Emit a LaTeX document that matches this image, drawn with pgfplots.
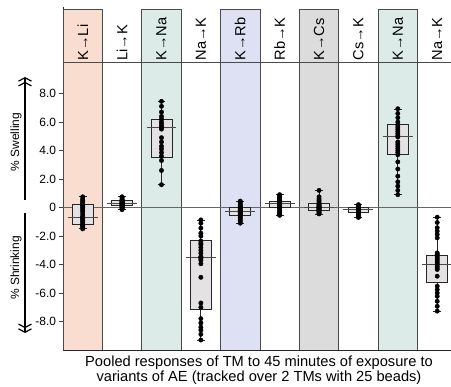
\documentclass[border=0pt]{standalone}
\usepackage{fontspec}
\setmainfont{Liberation Sans}
\usepackage{pgfplots}
\pgfplotsset{compat=1.18}
\usepgfplotslibrary{statistics}
\usetikzlibrary{arrows.meta}
\definecolor{cLi}{HTML}{F9DDD0}
\definecolor{cNa}{HTML}{DCEBE7}
\definecolor{cRb}{HTML}{DEE1F3}
\definecolor{cCs}{HTML}{DCDCDC}
\definecolor{bord}{HTML}{4A4A4A}
\definecolor{boxf}{HTML}{E4E2E2}
\definecolor{zl}{HTML}{666666}
\pgfplotsset{
  bxs/.style={draw=black!85, fill=boxf, line width=0.8bp,
    boxplot/draw direction=y, boxplot/box extend=0.53, boxplot/whisker extend=0.2,
    boxplot/every median/.style={draw=none}},
  pts/.style={only marks, mark=*, mark size=2.2bp, black},
  med/.style={draw=bord, line width=0.8bp, mark=none},
}
\tikzset{hd/.style={rotate=90, anchor=west, inner sep=1.5bp, font=\fontsize{14.7}{16}\selectfont},
  dbl/.style={line width=1.3bp, -{Straight Barb[length=3.5bp,width=13bp,line width=1.2bp] Straight Barb[length=3.5bp,width=13bp,line width=1.2bp]}}}
\begin{document}
\begin{tikzpicture}
\path[use as bounding box] (-63bp,-37bp) rectangle (388bp,350bp);
\begin{axis}[
  scale only axis, width=388bp, height=342.7bp,
  xmin=-0.5, xmax=9.35, ymin=-10, ymax=14.05,
  clip=false,
  axis x line=none, axis y line*=left,
  axis line style={-, draw=black!85, line width=0.8bp},
  ytick={-8,-6,-4,-2,0,2,4,6,8},
  yticklabels={-8.0,-6.0,-4.0,-2.0,0,2.0,4.0,6.0,8.0},
  tick align=outside, major tick length=3.5bp,
  tick style={draw=black!75, line width=0.8bp},
  y tick label style={font=\fontsize{12}{14}\selectfont},
]
% backgrounds
\draw[fill=cLi, draw=bord, line width=0.8bp] (axis cs:-0.5,-10) rectangle (axis cs:0.5,13.9);
\draw[fill=cNa, draw=bord, line width=0.8bp] (axis cs:1.5,-10) rectangle (axis cs:2.5,13.9);
\draw[fill=cRb, draw=bord, line width=0.8bp] (axis cs:3.5,-10) rectangle (axis cs:4.5,13.9);
\draw[fill=cCs, draw=bord, line width=0.8bp] (axis cs:5.5,-10) rectangle (axis cs:6.5,13.9);
\draw[fill=cNa, draw=bord, line width=0.8bp] (axis cs:7.5,-10) rectangle (axis cs:8.5,13.9);
% frame lines
\draw[black!85, line width=0.8bp] (axis cs:-0.5,-10) -- (axis cs:9.35,-10);
\draw[bord, line width=0.8bp] (axis cs:-0.5,10.2) -- (axis cs:9.35,10.2);
\draw[zl, line width=0.8bp] (axis cs:-0.5,0) -- (axis cs:9.35,0);
% header labels
\node[hd] at (axis cs:0,10.2) {K→Li};
\node[hd] at (axis cs:1,10.2) {Li→K};
\node[hd] at (axis cs:2,10.2) {K→Na};
\node[hd] at (axis cs:3,10.2) {Na→K};
\node[hd] at (axis cs:4,10.2) {K→Rb};
\node[hd] at (axis cs:5,10.2) {Rb→K};
\node[hd] at (axis cs:6,10.2) {K→Cs};
\node[hd] at (axis cs:7,10.2) {Cs→K};
\node[hd] at (axis cs:8,10.2) {K→Na};
\node[hd] at (axis cs:9,10.2) {Na→K};
% ---- K->Li
\addplot[bxs, boxplot prepared={draw position=0, lower whisker=-1.5, lower quartile=-1.2, median=-0.68, upper quartile=0.2, upper whisker=0.75}] coordinates {};
\addplot[med] coordinates {(-0.38,-0.68) (0.38,-0.68)};
\addplot[pts] coordinates {(0,0.75) (0,0.6) (0,0.5) (0,0.4) (0,0.3) (0,0.2) (0,0.15) (0,0.1) (0,0.0) (0,-0.1) (0,-0.2) (0,-0.3) (0,-0.6) (0,-0.68) (0,-0.75) (0,-0.8) (0,-0.9) (0,-1.0) (0,-1.1) (0,-1.2) (0,-1.25) (0,-1.3) (0,-1.4) (0,-1.5) (0,-0.45)};
% ---- Li->K
\addplot[bxs, boxplot prepared={draw position=1, lower whisker=-0.15, lower quartile=0.14, median=0.3, upper quartile=0.49, upper whisker=0.75}] coordinates {};
\addplot[med] coordinates {(0.62,0.3) (1.38,0.3)};
\addplot[pts] coordinates {(1,0.75) (1,0.7) (1,0.6) (1,0.55) (1,0.5) (1,0.45) (1,0.4) (1,0.4) (1,0.35) (1,0.3) (1,0.3) (1,0.3) (1,0.25) (1,0.2) (1,0.2) (1,0.15) (1,0.1) (1,0.1) (1,0.05) (1,0.0) (1,-0.05) (1,-0.1) (1,-0.15) (1,0.35) (1,0.25)};
% ---- K->Na
\addplot[bxs, boxplot prepared={draw position=2, lower whisker=1.6, lower quartile=3.55, median=5.6, upper quartile=6.2, upper whisker=7.45}] coordinates {};
\addplot[med] coordinates {(1.62,5.6) (2.38,5.6)};
\addplot[pts] coordinates {(2,7.45) (2,7.1) (2,6.7) (2,6.4) (2,6.2) (2,6.0) (2,5.85) (2,5.7) (2,5.6) (2,5.5) (2,4.9) (2,4.6) (2,4.3) (2,4.1) (2,3.85) (2,3.6) (2,3.3) (2,2.6) (2,1.6)};
% ---- Na->K
\addplot[bxs, boxplot prepared={draw position=3, lower whisker=-9.3, lower quartile=-7.15, median=-3.5, upper quartile=-2.32, upper whisker=-0.87}] coordinates {};
\addplot[med] coordinates {(2.62,-3.5) (3.38,-3.5)};
\addplot[pts] coordinates {(3,-0.87) (3,-1.1) (3,-1.45) (3,-1.8) (3,-2.0) (3,-2.35) (3,-2.5) (3,-2.6) (3,-2.8) (3,-3.0) (3,-3.2) (3,-3.45) (3,-3.5) (3,-3.6) (3,-3.7) (3,-3.95) (3,-4.9) (3,-6.7) (3,-7.0) (3,-7.8) (3,-8.1) (3,-8.4) (3,-8.6) (3,-8.9) (3,-9.3)};
% ---- K->Rb
\addplot[bxs, boxplot prepared={draw position=4, lower whisker=-1.1, lower quartile=-0.56, median=-0.26, upper quartile=0.02, upper whisker=0.45}] coordinates {};
\addplot[med] coordinates {(3.62,-0.26) (4.38,-0.26)};
\addplot[pts] coordinates {(4,0.45) (4,0.35) (4,0.25) (4,0.15) (4,0.1) (4,0.05) (4,0.0) (4,-0.05) (4,-0.1) (4,-0.15) (4,-0.2) (4,-0.2) (4,-0.25) (4,-0.3) (4,-0.35) (4,-0.4) (4,-0.45) (4,-0.5) (4,-0.55) (4,-0.6) (4,-0.7) (4,-0.8) (4,-0.9) (4,-1.0) (4,-1.1)};
% ---- Rb->K
\addplot[bxs, boxplot prepared={draw position=5, lower whisker=-0.55, lower quartile=0.02, median=0.26, upper quartile=0.44, upper whisker=0.9}] coordinates {};
\addplot[med] coordinates {(4.62,0.26) (5.38,0.26)};
\addplot[pts] coordinates {(5,0.9) (5,0.8) (5,0.7) (5,0.65) (5,0.6) (5,0.5) (5,0.45) (5,0.4) (5,0.35) (5,0.3) (5,0.3) (5,0.25) (5,0.25) (5,0.2) (5,0.15) (5,0.1) (5,0.05) (5,0.0) (5,-0.05) (5,-0.1) (5,-0.2) (5,-0.3) (5,-0.4) (5,-0.5) (5,-0.55)};
% ---- K->Cs
\addplot[bxs, boxplot prepared={draw position=6, lower whisker=-0.45, lower quartile=-0.21, median=0.02, upper quartile=0.26, upper whisker=1.2}] coordinates {};
\addplot[med] coordinates {(5.62,0.02) (6.38,0.02)};
\addplot[pts] coordinates {(6,1.2) (6,0.75) (6,0.6) (6,0.5) (6,0.4) (6,0.3) (6,0.25) (6,0.2) (6,0.15) (6,0.1) (6,0.05) (6,0.05) (6,0.0) (6,0.0) (6,-0.05) (6,-0.1) (6,-0.1) (6,-0.15) (6,-0.2) (6,-0.2) (6,-0.25) (6,-0.3) (6,-0.35) (6,-0.4) (6,-0.45)};
% ---- Cs->K
\addplot[bxs, boxplot prepared={draw position=7, lower whisker=-0.7, lower quartile=-0.33, median=-0.16, upper quartile=0.02, upper whisker=0.2}] coordinates {};
\addplot[med] coordinates {(6.62,-0.16) (7.38,-0.16)};
\addplot[pts] coordinates {(7,0.2) (7,0.1) (7,0.05) (7,0.0) (7,0.0) (7,-0.05) (7,-0.05) (7,-0.1) (7,-0.1) (7,-0.1) (7,-0.15) (7,-0.15) (7,-0.15) (7,-0.2) (7,-0.2) (7,-0.25) (7,-0.25) (7,-0.3) (7,-0.3) (7,-0.35) (7,-0.4) (7,-0.45) (7,-0.55) (7,-0.65) (7,-0.7)};
% ---- K->Na (2)
\addplot[bxs, boxplot prepared={draw position=8, lower whisker=0.9, lower quartile=3.7, median=5.0, upper quartile=5.8, upper whisker=6.9}] coordinates {};
\addplot[med] coordinates {(7.62,5.0) (8.38,5.0)};
\addplot[pts] coordinates {(8,6.93) (8,6.6) (8,6.3) (8,6.0) (8,5.8) (8,5.65) (8,5.5) (8,5.35) (8,5.2) (8,5.05) (8,4.95) (8,4.6) (8,4.45) (8,4.3) (8,4.15) (8,4.0) (8,3.85) (8,3.7) (8,3.2) (8,2.7) (8,2.2) (8,1.8) (8,1.5) (8,1.2) (8,0.9)};
% ---- Na->K (2)
\addplot[bxs, boxplot prepared={draw position=9, lower whisker=-7.27, lower quartile=-5.24, median=-4.0, upper quartile=-3.37, upper whisker=-0.68}] coordinates {};
\addplot[med] coordinates {(8.62,-4.0) (9.38,-4.0)};
\addplot[pts] coordinates {(9,-0.68) (9,-1.05) (9,-1.42) (9,-1.66) (9,-1.89) (9,-2.13) (9,-3.19) (9,-3.3) (9,-3.42) (9,-3.54) (9,-3.65) (9,-3.77) (9,-3.89) (9,-4.0) (9,-4.12) (9,-4.24) (9,-4.35) (9,-4.82) (9,-5.52) (9,-5.76) (9,-6.0) (9,-6.23) (9,-6.58) (9,-6.93) (9,-7.27)};
\end{axis}
\node[rotate=90, font=\fontsize{12}{14}\selectfont] at (-47bp,208bp) {\% Swelling};
\node[rotate=90, font=\fontsize{12}{14}\selectfont] at (-47bp,82bp) {\% Shrinking};
\draw[dbl] (-38bp,150bp) -- (-38bp,273bp);
\draw[dbl] (-38bp,137bp) -- (-38bp,17bp);
\node[align=center, font=\fontsize{14.7}{15}\selectfont] at (196bp,-20.5bp) {Pooled responses of TM to 45 minutes of exposure to\\variants of AE (tracked over 2 TMs with 25 beads)};
\end{tikzpicture}
\end{document}
